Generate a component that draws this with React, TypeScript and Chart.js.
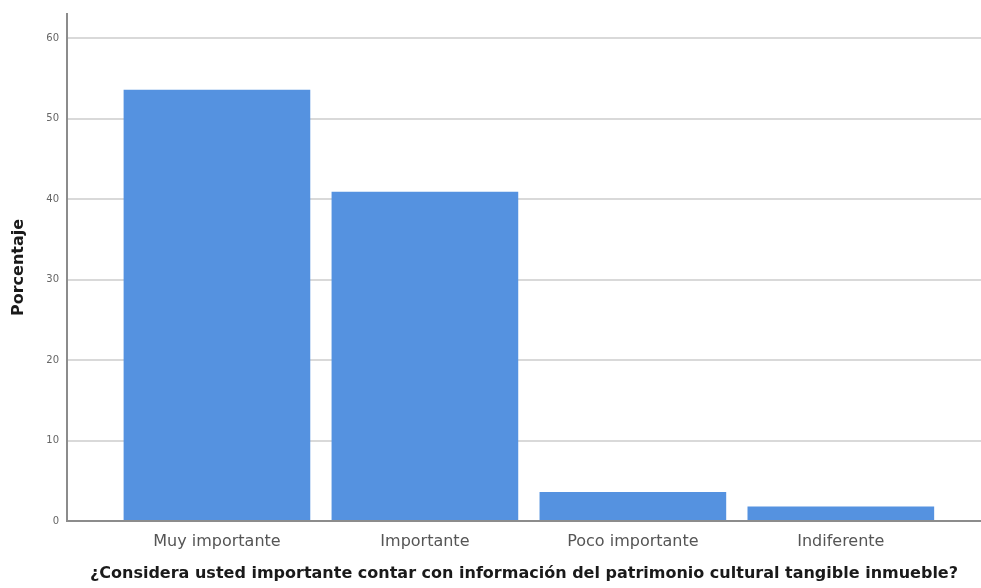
import React, { useEffect, useRef } from 'react';
import { Chart, registerables } from 'chart.js';
Chart.register(...registerables);

const categories = ['Muy importante', 'Importante', 'Poco importante', 'Indiferente'];
const percentages = [53.6, 40.9, 3.6, 1.8];
const yTicks = [0, 10, 20, 30, 40, 50, 60];
const yTitle = 'Porcentaje';
const xTitle = '¿Considera usted importante contar con información del patrimonio cultural tangible inmueble?';

export default function App() {
  const ref = useRef<HTMLCanvasElement>(null);
  useEffect(() => {
    const chart = new Chart(ref.current!, {
      type: 'bar',
      data: {
        datasets: [{
          data: percentages.map((y, i) => ({ x: i, y })) as any,
          backgroundColor: '#5592e0',
          categoryPercentage: 1,
          barPercentage: 0.8976,
        }],
      },
      options: {
        animation: false,
        responsive: false,
        maintainAspectRatio: false,
        layout: { padding: { top: 9, right: 0, left: 0, bottom: 0 } },
        plugins: { legend: { display: false }, tooltip: { enabled: false } },
        scales: {
          x: {
            type: 'linear',
            min: -0.721,
            max: 3.674,
            offset: false,
            grid: { display: false, offset: false, drawTicks: false },
            border: { display: true, color: '#8c8c8c', width: 2 },
            afterBuildTicks: (s: any) => { s.ticks = categories.map((_, i) => ({ value: i })); },
            afterFit: (s: any) => { s.height = 67; },
            ticks: {
              callback: (v: any) => categories[v as number] ?? '',
              autoSkip: false, maxRotation: 0, padding: 11,
              color: '#555', font: { family: 'DejaVu Sans', size: 16 },
            },
            title: {
              display: true, text: xTitle, color: '#1a1a1a',
              font: { family: 'DejaVu Sans', size: 16, weight: 'bold' },
              padding: { top: 2, bottom: 5 },
            },
          },
          y: {
            min: 0,
            max: 63,
            grid: { color: '#d9d9d9', lineWidth: 2, drawTicks: false },
            border: { display: true, color: '#8c8c8c', width: 2 },
            afterBuildTicks: (s: any) => { s.ticks = yTicks.map((v) => ({ value: v })); },
            afterFit: (s: any) => { s.width = 67; },
            ticks: { padding: 8, color: '#666', font: { family: 'DejaVu Sans', size: 10 } },
            title: {
              display: true, text: yTitle, color: '#1a1a1a',
              font: { family: 'DejaVu Sans', size: 16, weight: 'bold' },
              padding: { top: 9, bottom: 0 },
            },
          },
        },
      },
    });
    return () => chart.destroy();
  }, []);
  return (
    <div style={{ position: 'absolute', left: 0, top: 0, width: 981, height: 588, background: '#fff' }}>
      <canvas ref={ref} width={981} height={588} />
    </div>
  );
}
